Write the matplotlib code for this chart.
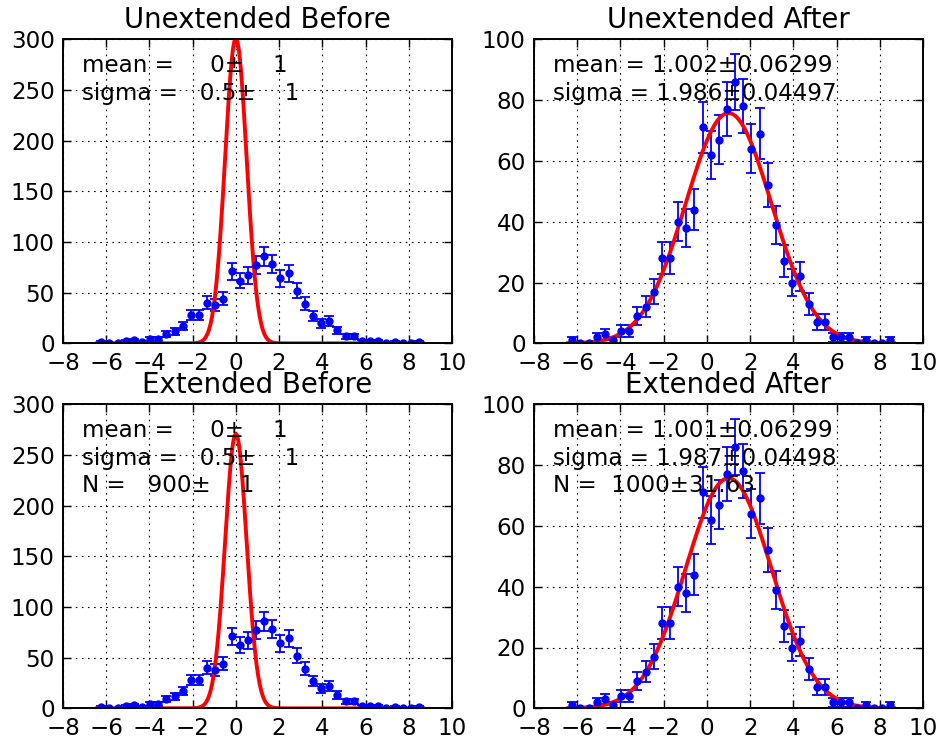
import numpy as np
import matplotlib.pyplot as plt

# histogram of the same 1000 samples, 40 bins
counts = [1, 0, 0, 2, 3, 1, 4, 4, 9, 12,
          17, 28, 28, 40, 38, 44, 71, 62, 67, 77,
          86, 78, 64, 69, 52, 39, 27, 20, 22, 13,
          7, 7, 2, 2, 2, 0, 1, 0, 0, 1]
hist_lo, hist_hi = -6.42, 8.66

titles = ['Unextended Before', 'Unextended After', 'Extended Before', 'Extended After']
means = [0, 1.002, 0, 1.001]
mean_errs = [1, 0.06299, 1, 0.06299]
sigmas = [0.5, 1.986, 0.5, 1.987]
sigma_errs = [1, 0.04497, 1, 0.04498]
norms = [None, None, 900, 1000]
norm_errs = [None, None, 1, 31.63]
ymaxes = [300, 100, 300, 100]
ysteps = [50, 20, 50, 20]

counts = np.array(counts, dtype=float)
edges = np.linspace(hist_lo, hist_hi, len(counts) + 1)
mids = 0.5 * (edges[1:] + edges[:-1])
bw = edges[1] - edges[0]
xs = np.linspace(hist_lo, hist_hi, 400)

fig = plt.figure(figsize=(9.43, 7.4), dpi=100)
rects = [[0.0668, 0.536, 0.4125, 0.411], [0.5663, 0.536, 0.4125, 0.411],
         [0.0668, 0.0428, 0.4125, 0.411], [0.5663, 0.0428, 0.4125, 0.411]]

fs = 16.6
for i in range(4):
    ax = fig.add_axes(rects[i])
    ax.errorbar(mids, counts, yerr=np.sqrt(counts), fmt='o', color='b', ms=5,
                mec='b', capsize=3.6, elinewidth=1.3, capthick=1.3)
    n = norms[i] if norms[i] is not None else counts.sum()
    pdf = np.exp(-0.5 * ((xs - means[i]) / sigmas[i]) ** 2) / (sigmas[i] * np.sqrt(2 * np.pi))
    ax.plot(xs, n * bw * pdf, color='r', lw=2.8)

    txt = 'mean = %5.4g±%5.4g\nsigma = %5.4g±%5.4g' % (means[i], mean_errs[i], sigmas[i], sigma_errs[i])
    if norms[i] is not None:
        txt += '\nN = %5.4g±%5.4g' % (norms[i], norm_errs[i])
    ax.text(0.05, 0.95, txt, transform=ax.transAxes, va='top', ha='left', fontsize=fs,
            linespacing=1.25)

    ax.set_xlim(-8, 10)
    ax.set_ylim(0, ymaxes[i])
    ax.set_xticks(np.arange(-8, 11, 2))
    ax.set_yticks(np.arange(0, ymaxes[i] + 1, ysteps[i]))
    ax.grid(True, color='k', linestyle=(0, (1.5, 4)), linewidth=0.8)
    ax.tick_params(direction='in', top=True, right=True, length=6, width=1.0,
                   labelsize=fs, pad=6)
    for sp in ax.spines.values():
        sp.set_linewidth(1.4)
    ax.set_title(titles[i], fontsize=fs * 1.2, pad=8)

plt.savefig('out.png')
